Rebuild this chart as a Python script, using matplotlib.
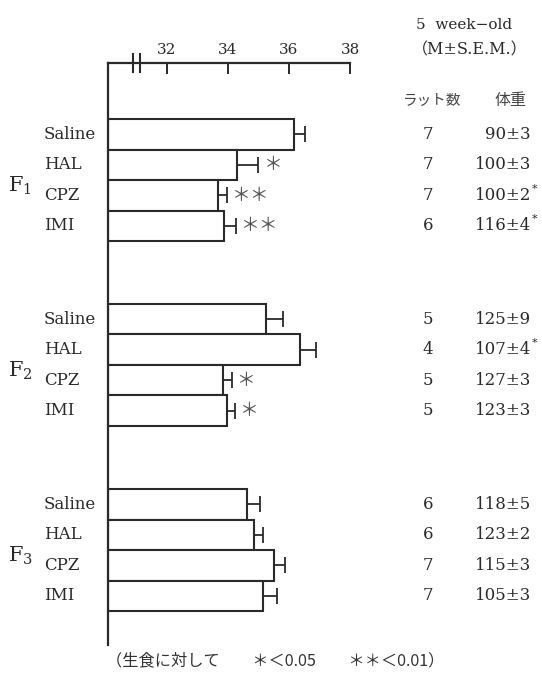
import matplotlib
matplotlib.use("Agg")
import matplotlib.pyplot as plt
import matplotlib.transforms as mtransforms

plt.rcParams["mathtext.fontset"] = "dejavuserif"

# ---- data -------------------------------------------------------------
generations = ["1", "2", "3"]
drugs = ["Saline", "HAL", "CPZ", "IMI"]

# body temperature (deg C), mean and S.E.M. per generation
temp_f1 = [36.18, 34.29, 33.66, 33.87]
sem_f1 = [0.35, 0.71, 0.30, 0.39]
temp_f2 = [35.24, 36.35, 33.85, 33.98]
sem_f2 = [0.55, 0.54, 0.27, 0.24]
temp_f3 = [34.64, 34.84, 35.52, 35.14]
sem_f3 = [0.40, 0.32, 0.34, 0.46]

# significance vs. saline
sig_f1 = ["", "*", "**", "**"]
sig_f2 = ["", "", "*", "*"]
sig_f3 = ["", "", "", ""]

# number of rats and body weight (mean ± S.E.M.)
n_f1 = [7, 7, 7, 6]
n_f2 = [5, 4, 5, 5]
n_f3 = [6, 6, 7, 7]
wt_f1 = [90, 100, 100, 116]
wtsem_f1 = [3, 3, 2, 4]
wtsig_f1 = [False, False, True, True]
wt_f2 = [125, 107, 127, 123]
wtsem_f2 = [9, 4, 3, 3]
wtsig_f2 = [False, True, False, False]
wt_f3 = [118, 123, 115, 105]
wtsem_f3 = [5, 2, 3, 3]
wtsig_f3 = [False, False, False, False]

x_ticks = [32, 34, 36, 38]

temps = [temp_f1, temp_f2, temp_f3]
sems = [sem_f1, sem_f2, sem_f3]
sigs = [sig_f1, sig_f2, sig_f3]
ns = [n_f1, n_f2, n_f3]
wts = [wt_f1, wt_f2, wt_f3]
wtsems = [wtsem_f1, wtsem_f2, wtsem_f3]
wtsigs = [wtsig_f1, wtsig_f2, wtsig_f3]

# ---- layout -----------------------------------------------------------
W, H = 542, 675
XMIN, XMAX = 30.07, 38.0
GROUP_START = [1.84, 7.90, 13.97]
YMAX = 19.08
INK = "#2a2a2a"
SERIF = ["DejaVu Serif", "Noto Sans CJK JP"]
CJK = ["Noto Sans CJK JP", "DejaVu Serif"]


def fx(px):
    return px / W


def fy(py):
    return 1 - py / H


fig = plt.figure(figsize=(W / 100, H / 100), dpi=100)
fig.patch.set_facecolor("white")
ax = fig.add_axes([fx(108), fy(645), fx(350) - fx(108), fy(63) - fy(645)])
ax.set_xlim(XMIN, XMAX)
ax.set_ylim(YMAX, 0)
ax.set_facecolor("none")

for s in ["right", "bottom"]:
    ax.spines[s].set_visible(False)
for s in ["left", "top"]:
    ax.spines[s].set_linewidth(1.6)
    ax.spines[s].set_color(INK)

ax.xaxis.tick_top()
ax.set_xticks(x_ticks)
ax.set_xticklabels([str(t) for t in x_ticks], fontfamily="DejaVu Serif",
                   fontsize=11, color=INK)
ax.tick_params(axis="x", direction="in", length=8, width=1.4, color=INK, pad=4)
ax.set_yticks([])

# axis break marks on the top spine
brk = mtransforms.blended_transform_factory(ax.transData, ax.transAxes)
dy = 9 / 582
for xb in (30.88, 31.12):
    ax.plot([xb, xb], [1 - dy, 1 + dy], color=INK, lw=1.5,
            transform=brk, clip_on=False)

row_tr = mtransforms.blended_transform_factory(fig.transFigure, ax.transData)

for g, gen in enumerate(generations):
    ys = [GROUP_START[g] + i + 0.5 for i in range(len(drugs))]
    widths = [v - XMIN for v in temps[g]]
    ax.barh(ys, widths, left=XMIN, height=1.0, color="white",
            edgecolor=INK, linewidth=1.5, zorder=2)
    ax.errorbar(temps[g], ys, xerr=[[0] * len(ys), sems[g]], fmt="none",
                ecolor=INK, elinewidth=1.3, capsize=6, capthick=1.3, zorder=3)
    for i, y in enumerate(ys):
        if sigs[g][i]:
            ax.annotate("＊" * len(sigs[g][i]), (temps[g][i] + sems[g][i], y),
                        xytext=(3, 0), textcoords="offset points",
                        ha="left", va="center", fontsize=13.5, color="#555555",
                        fontfamily=CJK)
        # drug labels
        fig.text(fx(44), y, drugs[i], transform=row_tr, ha="left",
                 va="center", fontsize=12, color=INK, fontfamily="DejaVu Serif")
        # n column
        fig.text(fx(428), y, str(ns[g][i]), transform=row_tr, ha="center",
                 va="center", fontsize=12, color=INK, fontfamily="DejaVu Serif")
        # body weight column
        fig.text(fx(531), y, f"{wts[g][i]}±{wtsems[g][i]}", transform=row_tr,
                 ha="right", va="center", fontsize=12, color=INK,
                 fontfamily="DejaVu Serif")
        if wtsigs[g][i]:
            fig.text(fx(532), y - 0.22, "*", transform=row_tr, ha="left",
                     va="center", fontsize=8, color=INK,
                     fontfamily="DejaVu Serif")
    # generation label
    fig.text(fx(8), GROUP_START[g] + 2.2, f"F$_{{{gen}}}$", transform=row_tr,
             ha="left", va="center", fontsize=15, color=INK,
             fontfamily="DejaVu Serif")

# header of the right-hand table
fig.text(fx(416), fy(25), "5  week−old", ha="left", va="center",
         fontsize=11, color=INK, fontfamily="DejaVu Serif")
fig.text(fx(412), fy(50), "（M±S.E.M.）", ha="left", va="center",
         fontsize=11.5, color=INK, fontfamily=SERIF)
fig.text(fx(432), fy(101), "ラット数", ha="center", va="center",
         fontsize=10.5, color="#444444", fontfamily=CJK)
fig.text(fx(510), fy(101), "体重", ha="center", va="center",
         fontsize=11.5, color="#444444", fontfamily=CJK)

# footnote
fig.text(fx(106), fy(661), "（生食に対して　　＊＜0.05　　＊＊＜0.01）",
         ha="left", va="center", fontsize=11.7, color="#333333",
         fontfamily=CJK)

fig.savefig("out.png", dpi=100, facecolor="white")
